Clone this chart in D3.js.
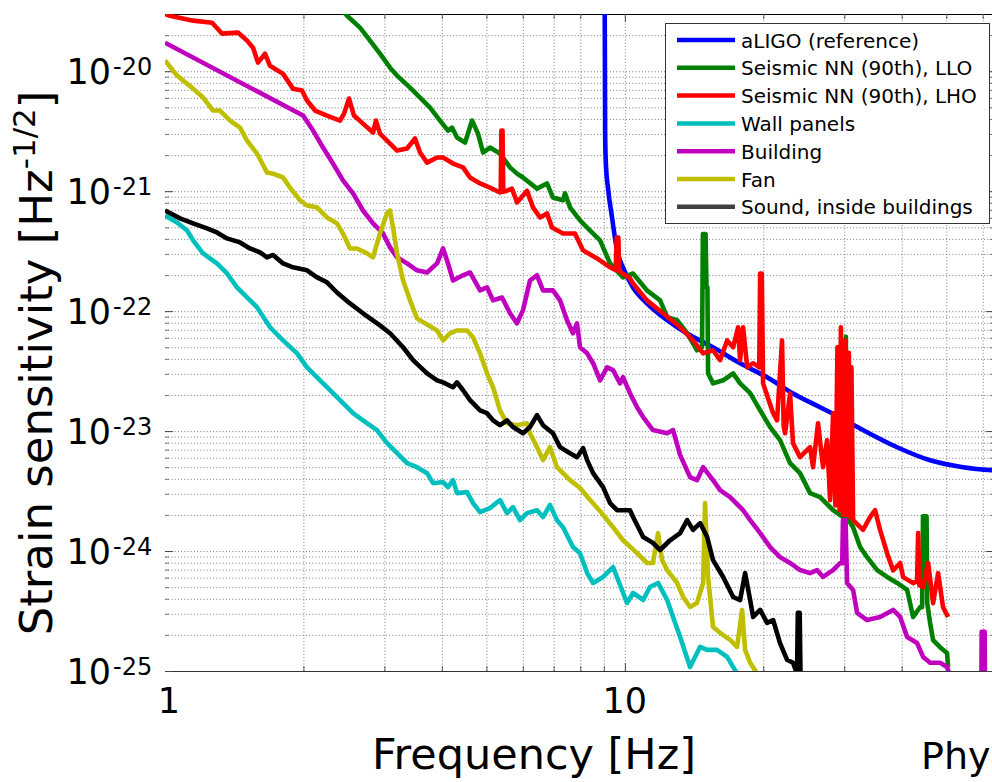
<!DOCTYPE html>
<html><head><meta charset="utf-8">
<script src="https://cdn.jsdelivr.net/npm/d3@7"></script>
<style>
body{margin:0;background:#fff}
svg{display:block}
text{font-family:"DejaVu Sans",Verdana,sans-serif;fill:#000}
</style>
</head><body>
<svg id="c" width="992" height="782"></svg>
<script>
// ---------------- data ----------------
const xTickLabels = [[1, "1"], [10, "10"]];
const yTickExponents = [-20, -21, -22, -23, -24, -25];
const seriesNames = ["aLIGO (reference)", "Seismic NN (90th), LLO", "Seismic NN (90th), LHO",
  "Wall panels", "Building", "Fan", "Sound, inside buildings"];
const seriesColors = ["#0000ff", "#008000", "#ff0000", "#00bfbf", "#bf00bf", "#bfbf00", "#000000"];
const legendColors = ["#0000ff", "#008000", "#ff0000", "#00bfbf", "#bf00bf", "#bfbf00", "#404040"];

const aligoRef = [[9.04,4e-20],[9.06,3e-21],[9.1,1.6e-21],[9.19,1.07e-21],[9.38,6.0e-22],[9.62,3.2e-22],
  [9.91,2.31e-22],[10.42,1.57e-22],[11.17,1.16e-22],[12.36,8.4e-23],[13.66,6.5e-23],[15.55,4.99e-23],
  [17.81,3.67e-23],[20.39,2.81e-23],[23.21,2.06e-23],[26.58,1.58e-23],[29.38,1.30e-23],[32.96,1.02e-23],
  [39.1,7.33e-24],[46.1,5.71e-24],[54.4,5.0e-24],[62.9,4.72e-24],[64,4.7e-24]];

const seismicLLO = [[2.3,4.2e-20],[2.488,2.9e-20],[2.655,2.31e-20],[2.792,1.8e-20],[2.934,1.4e-20],[3.086,1.07e-20],
  [3.196,9.2e-21],[3.411,7.3e-21],[3.586,6.03e-21],[3.77,4.97e-21],[3.964,3.88e-21],[4.125,3.2e-21],[4.209,3.39e-21],
  [4.316,2.8e-21],[4.493,2.54e-21],[4.653,3.88e-21],[4.794,3.02e-21],[4.916,2.1e-21],[5.09,2.31e-21],[5.352,2.06e-21],
  [5.627,1.58e-21],[5.828,1.4e-21],[6.005,1.3e-21],[6.441,1.05e-21],[6.772,1.16e-21],[6.978,8.85e-22],[7.337,8.4e-22],
  [7.41,9.6e-22],[7.598,7.33e-22],[7.99,5.7e-22],[8.405,4.7e-22],[8.833,3.89e-22],[9.287,2.5e-22],[9.91,1.91e-22],
  [10.42,2.06e-22],[11.17,1.49e-22],[11.93,1.23e-22],[12.36,8.9e-23],[12.99,8.4e-23],[13.66,6.54e-23],[14.35,4.72e-23],
  [14.72,5.0e-23],[14.78,4.4e-22],[14.98,4.4e-22],[15.05,1.58e-22],[15.12,1.58e-22],[15.17,3.03e-23],[15.55,2.5e-23],
  [16.36,2.65e-23],[17.2,3.03e-23],[17.81,2.5e-23],[18.73,2.07e-23],[19.69,1.49e-23],[20.7,1.08e-23],[21.75,8.4e-24],
  [22.87,5.4e-24],[24.04,4.46e-24],[25.28,3.04e-24],[26.58,2.82e-24],[28.37,2.19e-24],[29.83,1.92e-24],[30.15,1.9e-24],
  [30.25,6.1e-23],[30.4,1.9e-24],[31.36,1.58e-24],[32.48,1.08e-24],[33.63,8.9e-25],[35.37,6.94e-25],[37.18,6.08e-25],
  [39.1,5.42e-25],[41.1,4.74e-25],[42.36,2.82e-25],[43.87,3.42e-25],[44.3,3.4e-25],[44.5,1.95e-24],[45.3,1.95e-24],
  [45.45,3.68e-25],[46.12,2.51e-25],[46.81,1.81e-25],[48.47,1.58e-25],[50.2,1.41e-25],[50.45,1.08e-25]];

const seismicLHO = [[1.0,3.0e-20],[1.025,2.9e-20],[1.151,2.64e-20],[1.266,2.54e-20],[1.33,2.06e-20],[1.441,2.1e-20],
  [1.508,1.8e-20],[1.554,1.57e-20],[1.593,1.18e-20],[1.65,1.4e-20],[1.692,1.11e-20],[1.806,9.5e-21],[1.898,7.16e-21],
  [1.986,6.9e-21],[2.036,5.7e-21],[2.12,4.7e-21],[2.25,4.27e-21],[2.402,3.88e-21],[2.451,4.43e-21],[2.513,5.92e-21],
  [2.576,4.27e-21],[2.695,3.66e-21],[2.834,3.08e-21],[2.876,3.88e-21],[2.934,3.02e-21],[3.086,2.49e-21],[3.196,2.18e-21],
  [3.36,2.27e-21],[3.497,2.75e-21],[3.586,2.1e-21],[3.714,1.73e-21],[3.905,1.91e-21],[4.024,1.91e-21],[4.23,1.7e-21],
  [4.448,1.58e-21],[4.606,1.3e-21],[4.843,1.16e-21],[5.09,1.07e-21],[5.352,9.75e-22],[5.37,9.8e-22],[5.39,3.2e-21],
  [5.42,3.2e-21],[5.44,9.9e-22],[5.543,1.01e-21],[5.683,1.05e-21],[5.828,8.06e-22],[6.127,1.01e-21],[6.313,7.33e-22],
  [6.539,6.04e-22],[6.772,6.53e-22],[6.943,4.98e-22],[7.337,4.44e-22],[7.79,4.44e-22],[8.115,3.21e-22],[8.7,2.75e-22],
  [9.287,2.32e-22],[9.55,2.2e-22],[9.6,4.1e-22],[9.68,4.1e-22],[9.72,2.15e-22],[10.26,1.88e-22],[10.42,1.7e-22],
  [11.17,1.23e-22],[12.11,9.6e-23],[13.19,7.34e-23],[14.07,5.7e-23],[14.8,4.45e-23],[15.55,4.72e-23],[16.11,3.9e-23],
  [16.69,5.7e-23],[17.2,5.0e-23],[17.63,7.34e-23],[17.81,3.9e-23],[18.08,7.34e-23],[18.45,3.4e-23],[19.01,3.68e-23],
  [19.6,3.4e-23],[19.69,2.06e-22],[19.85,2.06e-22],[19.98,2.5e-23],[21.01,1.41e-23],[21.43,1.23e-23],[21.97,5.7e-23],
  [22.15,1.1e-23],[22.31,9.6e-24],[22.87,2.07e-23],[23.21,7.94e-24],[24.04,6.06e-24],[25.28,7.35e-24],[25.66,5.0e-24],
  [26.31,1.16e-23],[26.98,5.0e-24],[27.53,8.4e-24],[27.95,2.66e-24],[28.37,1.41e-23],[28.7,2.4e-24],[29.0,5.0e-23],
  [29.3,2.2e-24],[29.5,7.34e-23],[29.8,2.0e-24],[30.1,5.7e-23],[30.4,2.0e-24],[30.7,4.5e-23],[30.95,1.9e-24],
  [31.1,3.4e-23],[31.36,1.81e-24],[32.96,1.5e-24],[34.14,1.92e-24],[35.01,2.19e-24],[35.89,1.5e-24],[37.18,9.6e-25],
  [38.32,6.9e-25],[39.69,7.94e-25],[40.29,6.06e-25],[42.36,5.4e-25],[43.2,5.6e-25],[43.43,1.41e-24],[43.7,5.2e-25],
  [44.53,5.0e-25],[45.66,7.94e-25],[46.81,3.68e-25],[48.0,6.54e-25],[49.2,3.41e-25],[50.45,2.82e-25]];

const wallPanels = [[1.0,6.27e-22],[1.062,5.49e-22],[1.117,4.7e-22],[1.151,3.89e-22],[1.21,3.03e-22],[1.297,2.5e-22],
  [1.364,2.06e-22],[1.434,1.58e-22],[1.508,1.3e-22],[1.585,1.08e-22],[1.692,7.34e-23],[1.806,5.7e-23],[1.937,4.45e-23],
  [2.036,3.4e-23],[2.174,2.65e-23],[2.319,2.07e-23],[2.438,1.71e-23],[2.564,1.41e-23],[2.695,1.23e-23],[2.89,1.02e-23],
  [3.04,7.94e-24],[3.196,6.54e-24],[3.36,5.4e-24],[3.532,5.0e-24],[3.714,4.46e-24],[3.828,3.68e-24],[4.024,3.76e-24],
  [4.125,3.41e-24],[4.23,3.9e-24],[4.316,3.04e-24],[4.538,3.1e-24],[4.676,2.51e-24],[4.843,2.11e-24],[5.09,2.28e-24],
  [5.352,2.66e-24],[5.543,2.07e-24],[5.712,2.32e-24],[5.916,1.81e-24],[6.127,2.07e-24],[6.441,2.19e-24],[6.638,1.92e-24],
  [6.874,2.42e-24],[7.119,1.81e-24],[7.337,1.58e-24],[7.713,1.08e-24],[7.99,9.6e-25],[8.279,6.55e-25],[8.53,5.42e-25],
  [8.967,6.08e-25],[9.426,7.36e-25],[9.763,5.2e-25],[10.11,3.69e-25],[10.42,4.47e-25],[10.96,3.91e-25],[11.34,5.02e-25],
  [11.81,5.42e-25],[12.36,3.91e-25],[12.73,2.82e-25],[13.19,1.92e-25],[13.86,1.08e-25],[14.58,1.59e-25],[15.1,1.5e-25],
  [15.87,1.5e-25],[16.69,1.31e-25],[17.2,1.08e-25],[17.54,9.5e-26]];

const building = [[1.0,1.73e-20],[1.996,4.27e-21],[2.099,3.2e-21],[2.206,2.31e-21],[2.319,1.7e-21],[2.438,1.23e-21],
  [2.564,9.6e-22],[2.695,6.9e-22],[2.834,5.39e-22],[2.979,4.44e-22],[3.086,3.4e-22],[3.196,2.81e-22],[3.36,2.5e-22],
  [3.532,2.19e-22],[3.714,2.1e-22],[3.905,2.5e-22],[4.024,3.33e-22],[4.125,2.5e-22],[4.23,1.8e-22],[4.448,1.99e-22],
  [4.606,2.1e-22],[4.843,1.49e-22],[5.015,1.58e-22],[5.168,1.23e-22],[5.406,1.3e-22],[5.627,9.6e-23],[5.828,7.9e-23],
  [6.005,1.02e-22],[6.219,1.8e-22],[6.441,1.99e-22],[6.638,1.49e-22],[6.978,1.49e-22],[7.228,1.23e-22],[7.485,8.4e-23],
  [7.713,6.54e-23],[7.87,7.9e-23],[7.99,5.0e-23],[8.279,4.45e-23],[8.53,3.68e-23],[8.833,2.65e-23],[9.148,3.4e-23],
  [9.426,3.22e-23],[9.763,2.5e-23],[9.91,2.81e-23],[10.26,2.07e-23],[10.63,1.58e-23],[10.96,1.31e-23],[11.51,1.02e-23],
  [12.36,9.6e-24],[12.73,1.02e-23],[13.19,6.31e-24],[13.86,4.14e-24],[14.35,3.9e-24],[14.8,5.0e-24],[15.55,3.9e-24],
  [16.11,3.22e-24],[16.94,2.82e-24],[18.08,2.19e-24],[18.73,1.81e-24],[19.69,1.41e-24],[20.7,1.08e-24],[21.75,8.9e-25],
  [22.87,7.95e-25],[24.04,6.94e-25],[25.28,6.55e-25],[26.18,6.94e-25],[26.98,6.08e-25],[28.37,6.94e-25],[29.38,7.95e-25],
  [29.7,7.9e-25],[29.8,1.81e-24],[30.2,1.81e-24],[30.43,5.42e-25],[31.36,4.74e-25],[31.99,3.05e-25],[33.63,2.66e-25],
  [35.89,2.82e-25],[38.32,3.23e-25],[39.69,2.82e-25],[41.1,1.92e-25],[43.21,1.71e-25],[44.53,1.31e-25],[46.12,1.17e-25],
  [48.47,1.17e-25],[50.2,1.08e-25],[51.5,8e-26],[59.6,7e-26],[59.7,2.12e-25],[60.6,2.12e-25],[60.7,7e-26],[64,7e-26]];

const fan = [[1.0,1.23e-20],[1.062,9.2e-21],[1.151,7.16e-21],[1.21,6.03e-21],[1.272,4.7e-21],[1.317,4.7e-21],
  [1.385,3.88e-21],[1.456,3.39e-21],[1.508,2.64e-21],[1.585,2.06e-21],[1.667,1.43e-21],[1.718,1.4e-21],[1.806,1.3e-21],
  [1.87,1.07e-21],[1.966,8.4e-22],[2.036,7.6e-22],[2.141,7.33e-22],[2.25,6.04e-22],[2.366,5.39e-22],[2.438,4.44e-22],
  [2.525,3.33e-22],[2.616,3.33e-22],[2.75,3.03e-22],[2.834,2.81e-22],[2.934,4.44e-22],[3.04,6.53e-22],[3.086,6.9e-22],
  [3.133,4.98e-22],[3.196,3.03e-22],[3.294,1.8e-22],[3.411,1.23e-22],[3.532,8.7e-23],[3.64,8.1e-23],[3.905,6.9e-23],
  [4.024,5.7e-23],[4.167,6.54e-23],[4.316,6.9e-23],[4.538,6.9e-23],[4.676,6.05e-23],[4.843,4.45e-23],[5.015,3.03e-23],
  [5.168,2.32e-23],[5.352,1.49e-23],[5.543,1.16e-23],[5.828,1.12e-23],[6.127,1.16e-23],[6.219,9.6e-24],[6.441,7.35e-24],
  [6.638,5.73e-24],[6.874,7.35e-24],[7.119,5.0e-24],[7.598,3.9e-24],[7.99,3.35e-24],[8.405,2.66e-24],[8.833,2.15e-24],
  [9.426,1.58e-24],[9.91,1.23e-24],[10.63,9.6e-25],[11.17,7.95e-25],[11.51,7.95e-25],[11.81,1.41e-24],[12.05,8.4e-25],
  [12.36,6.94e-25],[12.99,5.42e-25],[13.39,4.14e-25],[13.86,3.42e-25],[14.35,3.69e-25],[14.8,5.42e-25],[14.94,2.51e-24],
  [15.17,6.08e-25],[15.55,2.33e-25],[16.11,2.08e-25],[16.94,1.82e-25],[17.54,1.59e-25],[17.99,3.23e-25],[18.26,1.5e-25],
  [18.73,1.17e-25],[19.4,9.5e-26]];

const sound = [[1.0,6.9e-22],[1.078,5.93e-22],[1.151,5.39e-22],[1.234,4.89e-22],[1.297,4.53e-22],[1.364,4.04e-22],
  [1.456,3.74e-22],[1.53,3.33e-22],[1.609,3.09e-22],[1.667,2.81e-22],[1.718,2.94e-22],[1.806,2.5e-22],[1.898,2.32e-22],
  [2.036,2.19e-22],[2.141,1.91e-22],[2.25,1.74e-22],[2.366,1.43e-22],[2.525,1.16e-22],[2.695,9.6e-23],[2.934,7.6e-23],
  [3.086,6.54e-23],[3.294,5.0e-23],[3.463,3.9e-23],[3.714,3.03e-23],[3.905,2.65e-23],[4.024,2.55e-23],[4.23,2.32e-23],
  [4.316,2.55e-23],[4.448,2.19e-23],[4.606,1.81e-23],[4.843,1.49e-23],[5.015,1.41e-23],[5.168,1.23e-23],[5.352,1.12e-23],
  [5.543,1.23e-23],[5.712,1.08e-23],[6.005,9.6e-24],[6.219,1.08e-23],[6.441,1.36e-23],[6.638,1.12e-23],[6.978,9.6e-24],
  [7.228,7.35e-24],[7.598,6.54e-24],[7.87,6.06e-24],[8.115,7.2e-24],[8.279,5.73e-24],[8.53,4.46e-24],[8.967,3.41e-24],
  [9.287,2.51e-24],[9.616,2.19e-24],[10.26,2.19e-24],[10.42,1.92e-24],[10.96,1.31e-24],[11.51,1.17e-24],[11.93,1.02e-24],
  [12.54,1.23e-24],[13.19,1.41e-24],[13.66,1.81e-24],[14.07,1.5e-24],[14.58,1.71e-24],[15.1,1.31e-24],[15.55,8.4e-25],
  [16.36,6.08e-25],[17.2,4.14e-25],[17.81,3.9e-25],[18.26,6.55e-25],[18.73,3.9e-25],[19.01,2.82e-25],[19.69,3.23e-25],
  [20.39,2.52e-25],[21.01,2.66e-25],[21.75,1.71e-25],[22.53,1.24e-25],[23.21,1.17e-25],[23.68,9.5e-26],[23.78,3.05e-25],
  [24.0,3.05e-25],[24.1,9e-26]];

const seriesData = [aligoRef, seismicLLO, seismicLHO, wallPanels, building, fan, sound];

// ---------------- chart ----------------
const plot = {left: 165, right: 994, top: 14, bottom: 671};
const x = d3.scaleLog().domain([1, 63.5]).range([plot.left, plot.right]);
const y = d3.scaleLog().domain([1e-25, 3e-20]).range([plot.bottom, plot.top]);
const svg = d3.select("#c");
svg.append("rect").attr("width", 992).attr("height", 782).attr("fill", "#fff");

const xMinor = [2,3,4,5,6,7,8,9,20,30,40,50,60];
const xMajor = [10];
const yMajor = yTickExponents.map(e => Math.pow(10, e));
const yMinor = [];
for (let e = -25; e <= -21; e++) for (let m = 2; m <= 9; m++) yMinor.push(m * Math.pow(10, e));
yMinor.push(2e-20);

const gridStyle = sel => sel.selectAll(".tick line")
  .attr("stroke", "#7a7a7a").attr("stroke-width", 1).attr("stroke-dasharray", "1,2.2");

// grid
svg.append("g").attr("transform", `translate(0,${plot.bottom})`)
  .call(d3.axisBottom(x).tickValues(xMajor.concat(xMinor)).tickSize(-(plot.bottom - plot.top)).tickFormat(""))
  .call(g => g.select(".domain").remove()).call(gridStyle);
svg.append("g").attr("transform", `translate(${plot.left},0)`)
  .call(d3.axisLeft(y).tickValues(yMajor.slice(0, 5).concat(yMinor)).tickSize(-(plot.right - plot.left)).tickFormat(""))
  .call(g => g.select(".domain").remove()).call(gridStyle);

// tick marks
function ticks(axis, tr, vals, size, color, keepDomain, domColor) {
  const g = svg.append("g").attr("transform", tr)
    .call(axis.tickValues(vals).tickSizeInner(size).tickSizeOuter(0).tickFormat(""));
  g.selectAll(".tick line").attr("stroke", color);
  if (keepDomain) g.select(".domain").attr("stroke", domColor); else g.select(".domain").remove();
}
ticks(d3.axisBottom(x), `translate(0,${plot.bottom})`, xMinor, -5, "#555", true, "#333");
ticks(d3.axisBottom(x), `translate(0,${plot.bottom})`, xMajor, -8, "#444", false);
ticks(d3.axisTop(x), `translate(0,${plot.top})`, xMinor, -5, "#555", true, "#000");
ticks(d3.axisTop(x), `translate(0,${plot.top})`, xMajor, -8, "#444", false);
ticks(d3.axisLeft(y), `translate(${plot.left},0)`, yMinor, -4, "#777", false);
ticks(d3.axisLeft(y), `translate(${plot.left},0)`, yMajor, -8, "#444", false);
ticks(d3.axisRight(y), `translate(${plot.right},0)`, yMinor, -4, "#777", false);
ticks(d3.axisRight(y), `translate(${plot.right},0)`, yMajor, -8, "#444", false);

// curves
svg.append("defs").append("clipPath").attr("id", "clip").append("rect")
  .attr("x", plot.left).attr("y", plot.top).attr("width", plot.right - plot.left).attr("height", plot.bottom - plot.top);
const curves = svg.append("g").attr("clip-path", "url(#clip)");
seriesData.forEach((data, i) => {
  const line = d3.line().x(d => x(d[0])).y(d => y(d[1]))
    .curve(i === 0 ? d3.curveMonotoneX : d3.curveLinear);
  curves.append("path").datum(data).attr("d", line).attr("fill", "none")
    .attr("stroke", seriesColors[i]).attr("stroke-width", 4.6)
    .attr("stroke-linejoin", "round").attr("stroke-linecap", "butt");
});

// y tick labels
yTickExponents.forEach(e => {
  const yy = y(Math.pow(10, e));
  svg.append("text").attr("x", 111).attr("y", yy + 13).attr("text-anchor", "end")
    .attr("font-size", 35).text("10");
  svg.append("text").attr("x", 113).attr("y", yy + 4).attr("font-size", 24).text(String(e));
});
// x tick labels
xTickLabels.forEach(([v, t]) => {
  svg.append("text").attr("x", x(v) + (t === "1" ? 4 : 0)).attr("y", 713)
    .attr("text-anchor", "middle").attr("font-size", 35).text(t);
});

// axis titles
svg.append("text").attr("x", 534).attr("y", 769).attr("text-anchor", "middle")
  .attr("font-size", 42).attr("textLength", 324).attr("lengthAdjust", "spacingAndGlyphs").text("Frequency [Hz]");
svg.append("text").attr("x", 921).attr("y", 769).attr("font-size", 38).text("Phy");
const yt = svg.append("text").attr("transform", "translate(52,363) rotate(-90)")
  .attr("text-anchor", "middle").attr("font-size", 45);
yt.append("tspan").text("Strain sensitivity [Hz");
yt.append("tspan").attr("dy", -17).attr("font-size", 31).text("-1/2");
yt.append("tspan").attr("dy", 17).text("]");

// legend
const lg = svg.append("g");
lg.append("rect").attr("x", 665.5).attr("y", 23.5).attr("width", 324).attr("height", 200)
  .attr("fill", "#fff").attr("stroke", "#333").attr("stroke-width", 1);
seriesNames.forEach((n, i) => {
  const cy = 40 + i * 27.8;
  lg.append("line").attr("x1", 677).attr("x2", 735).attr("y1", cy).attr("y2", cy)
    .attr("stroke", legendColors[i]).attr("stroke-width", 4.5);
  lg.append("text").attr("x", 741).attr("y", cy + 7.5).attr("font-size", 20).text(n);
});
</script>
</body></html>
